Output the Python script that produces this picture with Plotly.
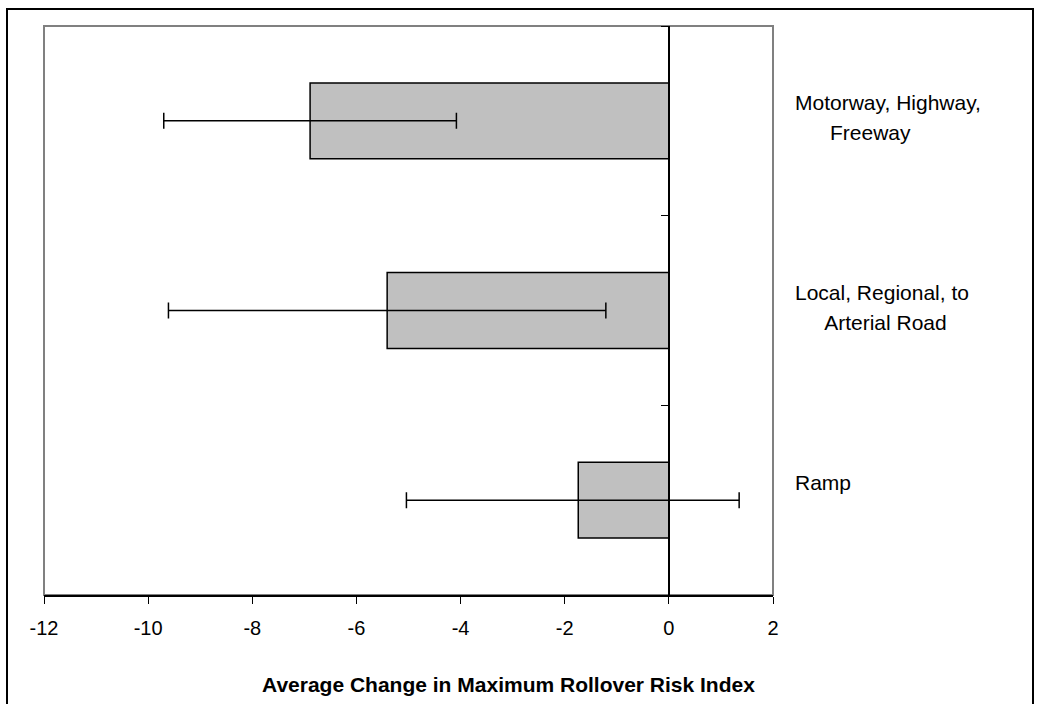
import plotly.graph_objects as go

# Road categories, top to bottom
categories = [
    "Motorway, Highway,\n\u00a0\u00a0\u00a0\u00a0\u00a0\u00a0Freeway",
    "Local, Regional, to\n\u00a0\u00a0\u00a0\u00a0\u00a0Arterial Road",
    "Ramp",
]
mean_change = [-6.89, -5.41, -1.74]
err_plus = [2.81, 4.20, 3.09]
err_minus = [2.81, 4.20, 3.30]

x_ticks = [-12, -10, -8, -6, -4, -2, 0, 2]
x_min, x_max = -12, 2
axis_title = "Average Change in Maximum Rollover Risk Index"

FONT = "Liberation Sans, Arial, Helvetica, sans-serif"

fig = go.Figure()
fig.add_trace(go.Bar(
    y=categories,
    x=mean_change,
    orientation="h",
    marker=dict(color="#C0C0C0", line=dict(color="#000000", width=1.5)),
    error_x=dict(
        type="data",
        symmetric=False,
        array=err_plus,
        arrayminus=err_minus,
        color="#000000",
        thickness=1.5,
        width=8,
    ),
    showlegend=False,
))

# Category labels to the right of the plot area, one annotation per line
annotations = []
for cat in categories:
    lines = cat.split("\n")
    for i, line in enumerate(lines):
        annotations.append(dict(
            x=1, xref="paper", y=cat, yref="y",
            xanchor="left", yanchor="middle",
            xshift=20, yshift=18 - 30 * i,
            text=line, showarrow=False, align="left",
            font=dict(family=FONT, size=21, color="#000000"),
        ))

annotations.append(dict(
    x=0.5, xref="paper", y=0, yref="paper",
    xanchor="center", yanchor="middle",
    xshift=100, yshift=-89,
    text="<b>" + axis_title + "</b>", showarrow=False,
    font=dict(family=FONT, size=21, color="#000000"),
))

fig.update_layout(
    width=1040, height=704,
    margin=dict(l=44, r=267, t=26, b=109),
    paper_bgcolor="#FFFFFF",
    plot_bgcolor="#FFFFFF",
    bargap=0.6,
    font=dict(family=FONT, size=20, color="#000000"),
    annotations=annotations,
    shapes=[
        # plot-area frame
        dict(type="rect", xref="paper", yref="paper", x0=0, x1=1, y0=0, y1=1,
             line=dict(color="#808080", width=2), layer="below"),
        # outer chart frame
        dict(type="rect", xref="paper", yref="paper",
             x0=-37 / 729, x1=989 / 729, y0=-115 / 569, y1=1 + 17 / 569,
             line=dict(color="#000000", width=2), layer="below"),
    ],
    xaxis=dict(
        range=[x_min, x_max],
        tickvals=x_ticks,
        ticktext=[str(v) for v in x_ticks],
        showgrid=False,
        zeroline=False,
        showline=True,
        linecolor="#000000",
        linewidth=1.5,
        ticks="outside",
        ticklen=7,
        tickcolor="#000000",
        tickwidth=1,
        ticklabelstandoff=7,
        tickfont=dict(family=FONT, size=20, color="#000000"),
    ),
    yaxis=dict(
        type="category",
        categoryorder="array",
        categoryarray=categories,
        autorange="reversed",
        anchor="free",
        position=(0 - x_min) / (x_max - x_min),
        showgrid=False,
        zeroline=False,
        showline=True,
        linecolor="#000000",
        linewidth=1.5,
        ticks="outside",
        tickson="boundaries",
        ticklen=7,
        tickcolor="#000000",
        showticklabels=False,
    ),
)

fig.write_html("out.html")
